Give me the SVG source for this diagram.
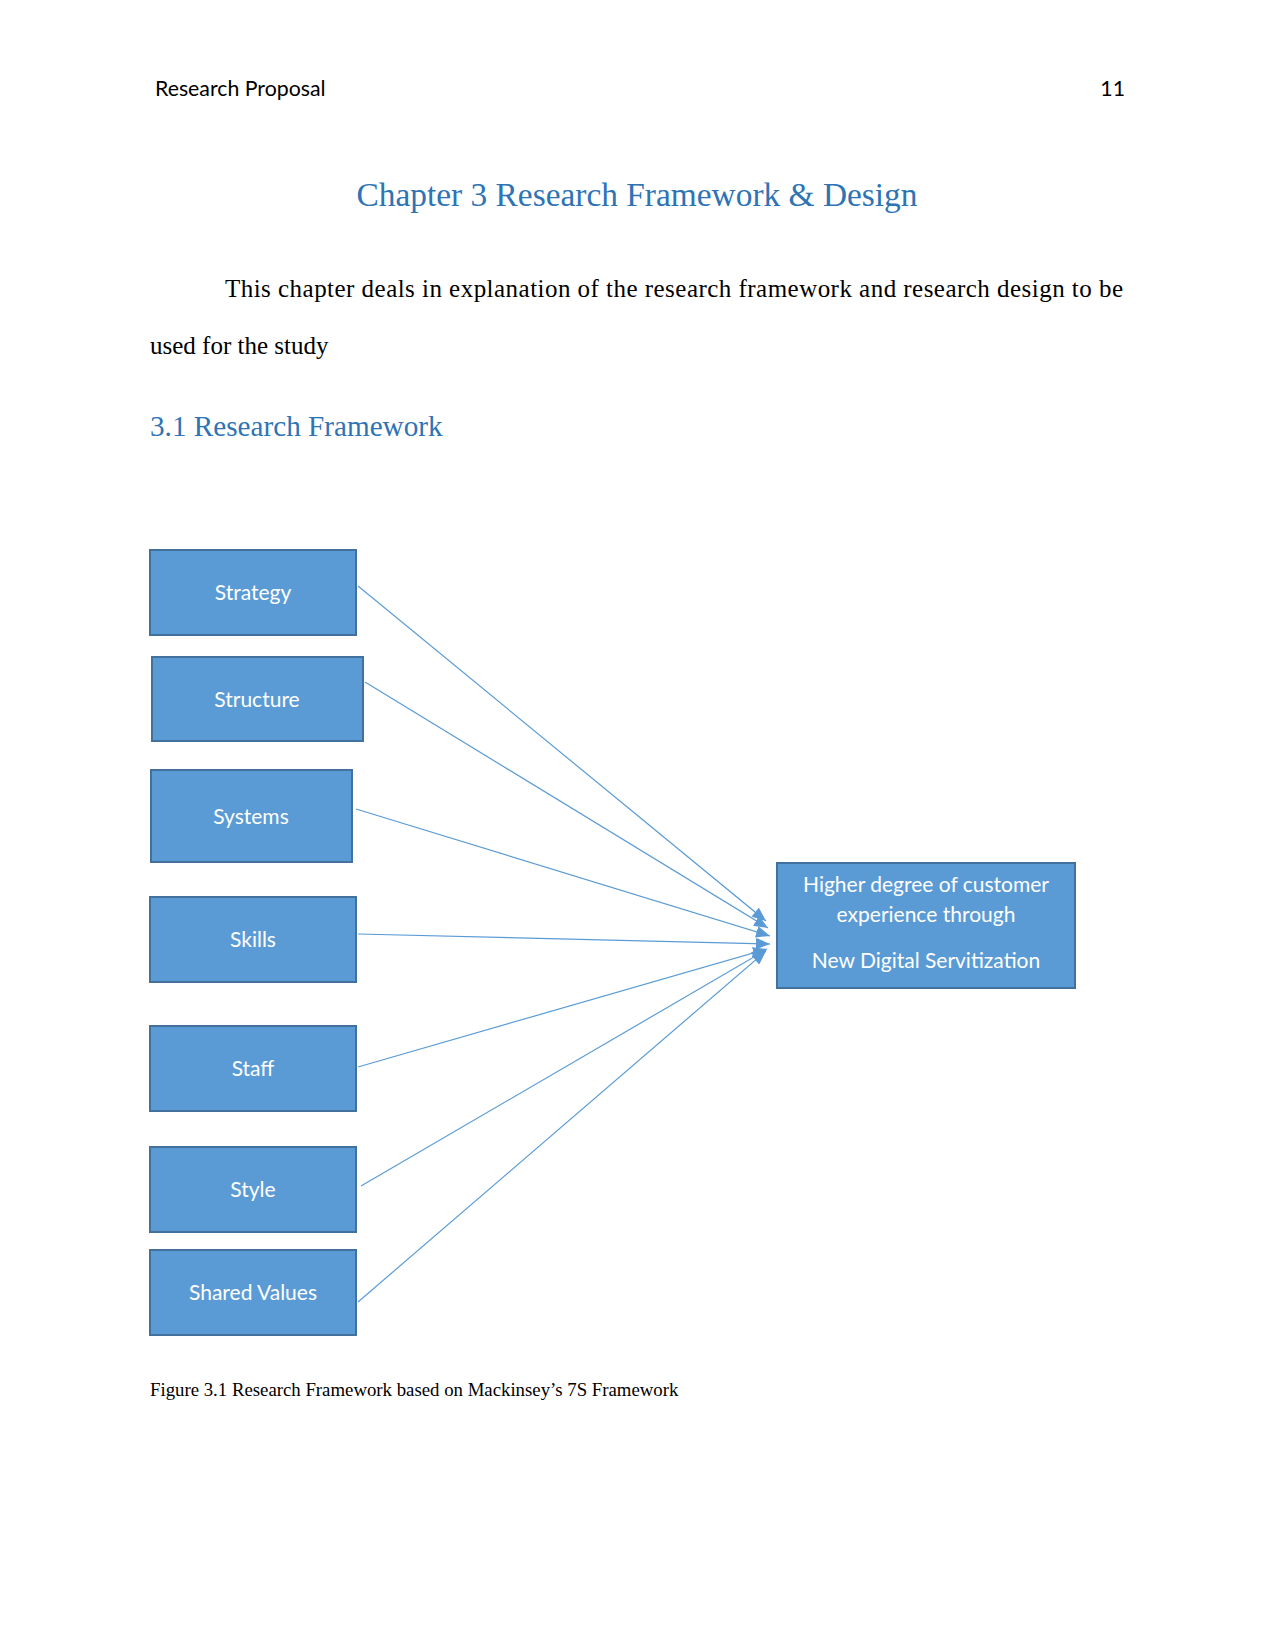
<svg xmlns="http://www.w3.org/2000/svg" width="1275" height="1650" viewBox="0 0 1275 1650">
<style>
.hdr{font-family:"Lato","Liberation Sans",sans-serif;font-size:21.3px;fill:#000}
.ser{font-family:"Liberation Serif","Times New Roman",serif;fill:#000}
.blue{fill:#2E74B5}
.box{fill:#5B9BD5;stroke:#41719C;stroke-width:2}
.lbl{font-family:"Lato","Liberation Sans",sans-serif;font-size:21px;fill:#fff;text-anchor:middle}
.con{stroke:#5B9BD5;stroke-width:1.2;fill:none}
</style>
<defs>
<marker id="ah" markerUnits="userSpaceOnUse" markerWidth="14" markerHeight="12" refX="12" refY="5" orient="auto" viewBox="0 0 12 10">
<path d="M0,0 L12,5 L0,10 z" fill="#5B9BD5"/>
</marker>
</defs>
<rect width="1275" height="1650" fill="#fff"/>
<text class="hdr" x="155" y="96">Research Proposal</text>
<text class="hdr" x="1125" y="96" text-anchor="end">11</text>
<text class="ser blue" x="637" y="206" font-size="33.4" text-anchor="middle">Chapter 3 Research Framework &amp; Design</text>
<text class="ser" x="225" y="297" font-size="25" textLength="898" lengthAdjust="spacing">This chapter deals in explanation of the research framework and research design to be</text>
<text class="ser" x="150" y="354" font-size="25">used for the study</text>
<text class="ser blue" x="150" y="436" font-size="29.2">3.1 Research Framework</text>
<g id="connectors">
<line class="con" x1="358" y1="586" x2="766" y2="921" marker-end="url(#ah)"/>
<line class="con" x1="365" y1="682" x2="768" y2="928" marker-end="url(#ah)"/>
<line class="con" x1="356" y1="809" x2="770" y2="936" marker-end="url(#ah)"/>
<line class="con" x1="358" y1="934" x2="770" y2="944" marker-end="url(#ah)"/>
<line class="con" x1="358" y1="1067" x2="767" y2="949" marker-end="url(#ah)"/>
<line class="con" x1="361" y1="1186" x2="766" y2="950" marker-end="url(#ah)"/>
<line class="con" x1="358" y1="1302" x2="766" y2="951" marker-end="url(#ah)"/>
</g>
<g id="strategy"><rect class="box" x="150" y="550" width="206" height="85"/><text class="lbl" x="253" y="600">Strategy</text></g>
<g id="structure"><rect class="box" x="152" y="657" width="211" height="84"/><text class="lbl" x="257" y="707">Structure</text></g>
<g id="systems"><rect class="box" x="151" y="770" width="201" height="92"/><text class="lbl" x="251" y="824">Systems</text></g>
<g id="skills"><rect class="box" x="150" y="897" width="206" height="85"/><text class="lbl" x="253" y="947">Skills</text></g>
<g id="staff"><rect class="box" x="150" y="1026" width="206" height="85"/><text class="lbl" x="253" y="1076">Staff</text></g>
<g id="style"><rect class="box" x="150" y="1147" width="206" height="85"/><text class="lbl" x="253" y="1197">Style</text></g>
<g id="shared-values"><rect class="box" x="150" y="1250" width="206" height="85"/><text class="lbl" x="253" y="1300">Shared Values</text></g>
<g id="outcome"><rect class="box" x="777" y="863" width="298" height="125"/>
<text class="lbl" x="926" y="892">Higher degree of customer</text>
<text class="lbl" x="926" y="922">experience through</text>
<text class="lbl" x="926" y="968">New Digital Servitization</text></g>
<text class="ser" x="150" y="1396" font-size="18.8">Figure 3.1 Research Framework based on Mackinsey’s 7S Framework</text>
</svg>
